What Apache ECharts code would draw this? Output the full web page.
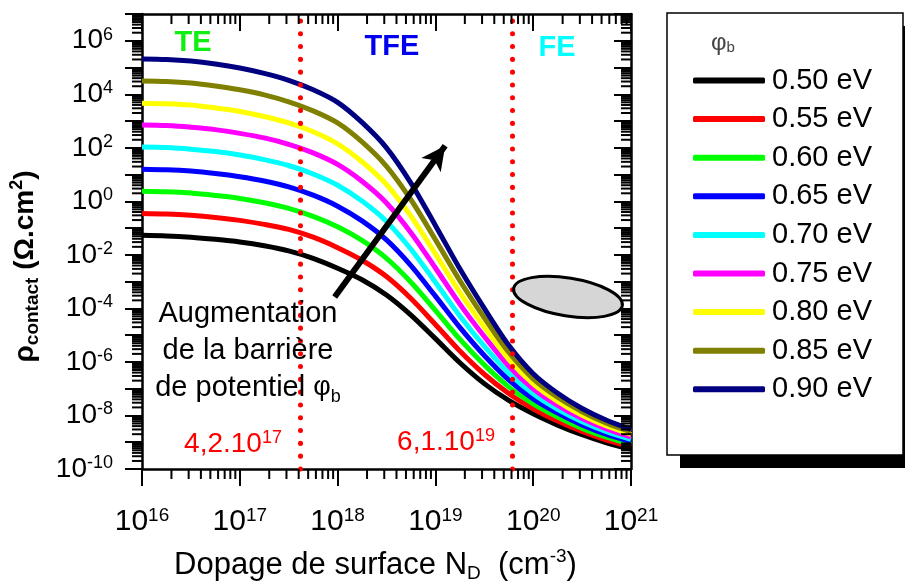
<!DOCTYPE html>
<html><head><meta charset="utf-8">
<script src="https://cdn.jsdelivr.net/npm/echarts@6/dist/echarts.min.js"></script>
<style>html,body{margin:0;padding:0;background:#fff}#c{width:905px;height:588px}</style>
</head><body><div id="c"></div>
<script>
// ---- data (log10 of doping in cm^-3 and log10 of rho_contact in Ohm.cm^2)
const dopingLog10 = [16, 16.25, 16.5, 16.75, 17, 17.25, 17.5, 17.75, 18, 18.25, 18.5, 18.75, 19, 19.25, 19.5, 19.75, 20, 20.25, 20.5, 20.75, 21];
const barrierLabels = ['0.50 eV', '0.55 eV', '0.60 eV', '0.65 eV', '0.70 eV', '0.75 eV', '0.80 eV', '0.85 eV', '0.90 eV'];
const rho_050 = [-1.27, -1.29, -1.34, -1.42, -1.52, -1.66, -1.85, -2.13, -2.50, -2.93, -3.50, -4.25, -5.13, -6.03, -6.81, -7.44, -7.94, -8.36, -8.72, -9.02, -9.26];
const rho_055 = [-0.45, -0.47, -0.52, -0.60, -0.71, -0.86, -1.05, -1.34, -1.73, -2.20, -2.81, -3.63, -4.60, -5.59, -6.46, -7.18, -7.75, -8.21, -8.60, -8.92, -9.17];
const rho_060 = [0.38, 0.36, 0.31, 0.22, 0.11, -0.05, -0.26, -0.56, -0.95, -1.46, -2.13, -3.02, -4.07, -5.15, -6.11, -6.93, -7.57, -8.06, -8.48, -8.81, -9.08];
const rho_065 = [1.20, 1.18, 1.13, 1.04, 0.92, 0.76, 0.54, 0.23, -0.18, -0.73, -1.44, -2.40, -3.54, -4.71, -5.76, -6.67, -7.38, -7.91, -8.35, -8.71, -8.98];
const rho_070 = [2.03, 2.01, 1.95, 1.86, 1.73, 1.56, 1.34, 1.02, 0.60, 0.01, -0.75, -1.79, -3.02, -4.28, -5.41, -6.41, -7.19, -7.77, -8.23, -8.60, -8.89];
const rho_075 = [2.85, 2.83, 2.77, 2.68, 2.54, 2.37, 2.13, 1.81, 1.38, 0.75, -0.06, -1.17, -2.49, -3.84, -5.05, -6.15, -7.00, -7.62, -8.11, -8.50, -8.80];
const rho_080 = [3.67, 3.65, 3.60, 3.49, 3.36, 3.17, 2.93, 2.60, 2.15, 1.48, 0.63, -0.55, -1.96, -3.40, -4.70, -5.90, -6.82, -7.47, -7.99, -8.39, -8.71];
const rho_085 = [4.50, 4.48, 4.42, 4.31, 4.17, 3.98, 3.72, 3.38, 2.93, 2.22, 1.31, 0.06, -1.43, -2.96, -4.35, -5.64, -6.63, -7.32, -7.86, -8.29, -8.61];
const rho_090 = [5.32, 5.30, 5.24, 5.13, 4.98, 4.78, 4.52, 4.17, 3.70, 2.95, 2.00, 0.68, -0.90, -2.52, -4.00, -5.38, -6.44, -7.17, -7.74, -8.18, -8.52];
const xTickExponents = [16, 17, 18, 19, 20, 21];
const yLabelExponents = [-10, -8, -6, -4, -2, 0, 2, 4, 6];
const regimeBounds = [4.2e17, 6.1e19];
const regimeBoundLabels = [['4,2.10', '17'], ['6,1.10', '19']];
const regimeNames = ['TE', 'TFE', 'FE'];
const trendArrow = [[17.97, -3.57], [19.10, 2.08]];

// ---- styling
const FONT = '"Liberation Sans", Arial, sans-serif';
const seriesColors = ['#000000', '#ff0000', '#00ff00', '#0000ff', '#00ffff', '#ff00ff', '#ffff00', '#808000', '#000080'];
const rhoSets = [rho_050, rho_055, rho_060, rho_065, rho_070, rho_075, rho_080, rho_085, rho_090];
const X_MIN = 16, X_MAX = 21, Y_MIN = -10, Y_MAX = 7;

const chart = echarts.init(document.getElementById('c'), null, { renderer: 'canvas' });

const lineSeries = barrierLabels.map((name, i) => ({
  name, type: 'line', smooth: 0.3, showSymbol: false, symbol: 'none',
  lineStyle: { color: seriesColors[i], width: 5 }, itemStyle: { color: seriesColors[i] },
  data: dopingLog10.map((x, j) => [x, rhoSets[i][j]]), z: 3, silent: true
}));

const MINOR = 10;
const minorTicks = {
  type: 'custom', coordinateSystem: 'cartesian2d', silent: true, clip: false, z: 6,
  data: [0],
  renderItem: (params, api) => {
    const ch = [];
    const st = { stroke: '#000', lineWidth: 2 };
    for (let n = X_MIN; n < X_MAX; n++) for (let k = 2; k <= 9; k++) {
      const v = n + Math.log10(k);
      const b = api.coord([v, Y_MIN]), t = api.coord([v, Y_MAX]);
      ch.push({ type: 'line', shape: { x1: b[0], y1: b[1], x2: b[0], y2: b[1] + MINOR }, style: st });
      ch.push({ type: 'line', shape: { x1: t[0], y1: t[1], x2: t[0], y2: t[1] + MINOR }, style: st });
    }
    for (let n = Y_MIN; n < Y_MAX; n++) for (let k = 2; k <= 9; k++) {
      const v = n + Math.log10(k);
      const l = api.coord([X_MIN, v]), r = api.coord([X_MAX, v]);
      ch.push({ type: 'line', shape: { x1: l[0], y1: l[1], x2: l[0] - MINOR, y2: l[1] }, style: st });
      ch.push({ type: 'line', shape: { x1: r[0], y1: r[1], x2: r[0] - MINOR, y2: r[1] }, style: st });
    }
    return { type: 'group', children: ch };
  }
};

const annot = {
  name: '_annot', type: 'line', data: [], silent: true, z: 4,
  markLine: {
    silent: true, symbol: 'none', label: { show: false }, animation: false,
    data: [
      ...regimeBounds.map(v => ({ xAxis: Math.log10(v), lineStyle: { color: '#ff0000', width: 5, type: [0.1, 12.7], cap: 'round' } })),
      [
        { coord: trendArrow[0], symbol: 'none', lineStyle: { color: '#000', width: 6, type: 'solid' } },
        { coord: trendArrow[1], symbol: 'arrow', symbolSize: [18, 24] }
      ]
    ]
  }
};

const axisLineStyle = { color: '#000', width: 2.5 };
const tickStyle = { color: '#000', width: 2 };

chart.setOption({
  animation: false,
  backgroundColor: '#fff',
  grid: { left: 137, top: 14, width: 494, height: 460, containLabel: false },
  xAxis: [
    {
      type: 'value', min: X_MIN, max: X_MAX, interval: 1, position: 'bottom',
      axisLine: { onZero: false, lineStyle: axisLineStyle }, splitLine: { show: false },
      axisTick: { length: 17, inside: false, lineStyle: tickStyle },
      axisLabel: {
        margin: 37, fontFamily: FONT, color: '#000',
        formatter: v => xTickExponents.includes(v) ? '{b|10}{s|' + v + '}' : '',
        rich: { b: { fontSize: 30, fontFamily: FONT, color: '#000', lineHeight: 32 }, s: { fontSize: 19, fontFamily: FONT, color: '#000', verticalAlign: 'top', lineHeight: 20 } }
      },
      name: '{t|Dopage de surface N}{d|D}{t|  (cm}{u|-3}{t|)}', nameLocation: 'middle', nameGap: 78,
      nameTextStyle: {
        padding: [0, 22, 0, 0],
        rich: { t: { fontSize: 31, fontFamily: FONT, color: '#000', lineHeight: 36 }, d: { fontSize: 19, fontFamily: FONT, color: '#000', verticalAlign: 'bottom', lineHeight: 18 }, u: { fontSize: 19, fontFamily: FONT, color: '#000', verticalAlign: 'top', lineHeight: 18 } }
      }
    },
    {
      type: 'value', min: X_MIN, max: X_MAX, interval: 1, position: 'top',
      axisLine: { onZero: false, lineStyle: axisLineStyle }, splitLine: { show: false },
      axisTick: { length: 17, inside: true, lineStyle: tickStyle }, axisLabel: { show: false }
    }
  ],
  yAxis: [
    {
      type: 'value', min: Y_MIN, max: Y_MAX, interval: 1, position: 'left',
      axisLine: { onZero: false, lineStyle: axisLineStyle }, splitLine: { show: false },
      axisTick: { length: 17, inside: false, lineStyle: tickStyle },
      axisLabel: {
        margin: 29, fontFamily: FONT, color: '#000',
        formatter: v => yLabelExponents.includes(v) ? '{b|10}{s|' + v + '}' : '',
        rich: { b: { fontSize: 28, fontFamily: FONT, color: '#000', lineHeight: 30 }, s: { fontSize: 18, fontFamily: FONT, color: '#000', verticalAlign: 'top', lineHeight: 18 } }
      },
      name: '{t|ρ}{d|contact}{t| (Ω.cm}{u|2}{t|)}', nameLocation: 'middle', nameGap: 100, nameRotate: 90,
      nameTextStyle: {
        padding: [0, 50, 0, 0],
        rich: { t: { fontSize: 28, fontWeight: 'bold', fontFamily: FONT, color: '#000', lineHeight: 34 }, d: { fontSize: 19, fontWeight: 'bold', fontFamily: FONT, color: '#000', verticalAlign: 'bottom', lineHeight: 18 }, u: { fontSize: 18, fontWeight: 'bold', fontFamily: FONT, color: '#000', verticalAlign: 'top', lineHeight: 18 } }
      }
    },
    {
      type: 'value', min: Y_MIN, max: Y_MAX, interval: 1, position: 'right',
      axisLine: { onZero: false, lineStyle: axisLineStyle }, splitLine: { show: false },
      axisTick: { length: 17, inside: true, lineStyle: tickStyle }, axisLabel: { show: false }
    }
  ],
  legend: {
    data: barrierLabels, orient: 'vertical', left: 688, top: 61,
    itemWidth: 72, itemHeight: 6, itemGap: 9.6, icon: 'roundRect', selectedMode: false,
    textStyle: { fontSize: 29, fontFamily: FONT, color: '#000', padding: [0, 0, 0, 2] }
  },
  graphic: [
    { type: 'rect', z: -10, shape: { x: 680, y: 26, width: 240, height: 442 }, style: { fill: '#000' } },
    { type: 'rect', z: -9, shape: { x: 667, y: 13, width: 236, height: 442 }, style: { fill: '#fff', stroke: '#000', lineWidth: 1.5 } },
    { type: 'text', z: 10, x: 711, y: 43, style: { text: '{p|φ}{s|b}', verticalAlign: 'middle', rich: { p: { fontSize: 24, fill: '#444', fontFamily: FONT }, s: { fontSize: 15, fill: '#444', fontFamily: FONT, verticalAlign: 'bottom', lineHeight: 14 } } } },
    { type: 'text', z: 10, x: 193, y: 43, style: { text: regimeNames[0], fill: '#11ee11', font: 'bold 29px ' + FONT, align: 'center', verticalAlign: 'middle' } },
    { type: 'text', z: 10, x: 392, y: 47, style: { text: regimeNames[1], fill: '#0000ee', font: 'bold 29px ' + FONT, align: 'center', verticalAlign: 'middle' } },
    { type: 'text', z: 10, x: 557, y: 48, style: { text: regimeNames[2], fill: '#00ffff', font: 'bold 29px ' + FONT, align: 'center', verticalAlign: 'middle' } },
    { type: 'text', z: 10, x: 248, y: 351, style: {
        text: '{t|Augmentation}\n{t|de la barrière}\n{t|de potentiel }{p|φ}{s|b}', align: 'center', verticalAlign: 'middle',
        rich: { t: { fontSize: 29, fill: '#000', fontFamily: FONT, lineHeight: 37 }, p: { fontSize: 27, fill: '#000', fontFamily: FONT, lineHeight: 37 }, s: { fontSize: 18, fill: '#000', fontFamily: FONT, verticalAlign: 'bottom', lineHeight: 30 } } } },
    { type: 'text', z: 10, x: 233, y: 444, style: { text: '{t|' + regimeBoundLabels[0][0] + '}{s|' + regimeBoundLabels[0][1] + '}', align: 'center', verticalAlign: 'middle', rich: { t: { fontSize: 28, fill: '#ff0000', fontFamily: FONT, lineHeight: 30 }, s: { fontSize: 18, fill: '#ff0000', fontFamily: FONT, verticalAlign: 'top', lineHeight: 18 } } } },
    { type: 'text', z: 10, x: 446, y: 442, style: { text: '{t|' + regimeBoundLabels[1][0] + '}{s|' + regimeBoundLabels[1][1] + '}', align: 'center', verticalAlign: 'middle', rich: { t: { fontSize: 28, fill: '#ff0000', fontFamily: FONT, lineHeight: 30 }, s: { fontSize: 18, fill: '#ff0000', fontFamily: FONT, verticalAlign: 'top', lineHeight: 18 } } } },
    { type: 'ellipse', z: 10, x: 568, y: 297, rotation: -9 * Math.PI / 180, shape: { cx: 0, cy: 0, rx: 55, ry: 19 }, style: { fill: '#d6d6d6', stroke: '#000', lineWidth: 3 } }
  ],
  series: [...lineSeries, annot, minorTicks]
});
</script></body></html>
